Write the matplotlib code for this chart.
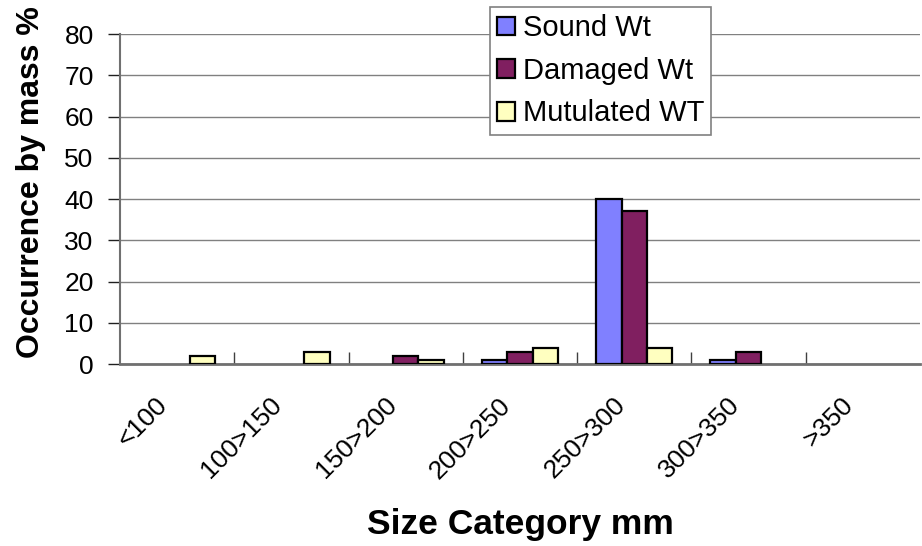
import numpy as np
import matplotlib.pyplot as plt
import matplotlib.transforms as mtransforms
from matplotlib.patches import Patch

plt.rcParams["font.family"] = ["Liberation Sans", "DejaVu Sans"]

# size classes and occurrence by mass (%)
categories = ["<100", "100>150", "150>200", "200>250", "250>300", "300>350", ">350"]
sound_wt = [0, 0, 0, 1, 40, 1, 0]
damaged_wt = [0, 0, 2, 3, 37, 3, 0]
mutilated_wt = [2, 3, 1, 4, 4, 0, 0]
series_names = ["Sound Wt", "Damaged Wt", "Mutulated WT"]
series_colors = ["#8080FF", "#801F60", "#FFFFC0"]

fig = plt.figure(figsize=(9.22, 5.46), dpi=100)
ax = fig.add_axes([0.1302, 0.3333, 0.8676, 0.6044])

x = np.arange(len(categories))
bw = 1 / 4.5  # Excel-style gap width 150%
for i, (vals, col) in enumerate(zip([sound_wt, damaged_wt, mutilated_wt], series_colors)):
    xs = x - bw + i * bw
    for xi, v in zip(xs, vals):
        if v > 0:
            ax.bar(xi, v, width=bw, color=col, edgecolor="black", linewidth=1.6, zorder=3)

ax.set_xlim(-0.5, len(categories) - 0.5)
ax.set_ylim(0, 80)
ax.set_yticks(range(0, 81, 10))
ax.yaxis.grid(True, color="#808080", linewidth=1.0, zorder=0)
ax.set_axisbelow(True)

# category boundaries as minor ticks on the x axis
ax.set_xticks(x)
ax.set_xticks(np.arange(0.5, len(categories) - 0.5, 1), minor=True)
ax.tick_params(axis="x", which="major", length=0, pad=27)
ax.tick_params(axis="x", which="minor", direction="in", length=9, width=1, color="#404040")
ax.set_xticklabels(categories, rotation=45, ha="right", va="center",
                   rotation_mode="anchor", fontsize=19)
shift = mtransforms.ScaledTranslation(-13 / 100, 0, fig.dpi_scale_trans)
for lbl in ax.get_xticklabels():
    lbl.set_transform(lbl.get_transform() + shift)
ax.tick_params(axis="y", direction="out", length=9, width=1, color="#202020", labelsize=19, pad=10)

for side in ["top", "right"]:
    ax.spines[side].set_visible(False)
ax.spines["left"].set_color("#707070")
ax.spines["left"].set_linewidth(1.5)
ax.spines["bottom"].set_color("#707070")
ax.spines["bottom"].set_linewidth(2.0)

ax.set_xlabel("Size Category mm", fontsize=25.5, fontweight="bold", va="top")
ax.xaxis.set_label_coords(0.5, -0.436)
ax.set_ylabel("Occurrence by mass %", fontsize=23, fontweight="bold")
ax.yaxis.set_label_coords(-0.0925, 0.552)

handles = [Patch(facecolor=c, edgecolor="black", linewidth=1.6, label=n)
           for n, c in zip(series_names, series_colors)]
leg = fig.legend(handles=handles, loc="upper left", bbox_to_anchor=(490 / 922, 1 - 7 / 546),
                 fontsize=21, frameon=True, fancybox=False, framealpha=1,
                 handlelength=0.62, handleheight=0.62, handletextpad=0.25,
                 borderpad=0.25, labelspacing=0.5, borderaxespad=0)
leg.get_frame().set_edgecolor("#808080")
leg.get_frame().set_linewidth(1.2)

fig.savefig("out.png", dpi=100)
